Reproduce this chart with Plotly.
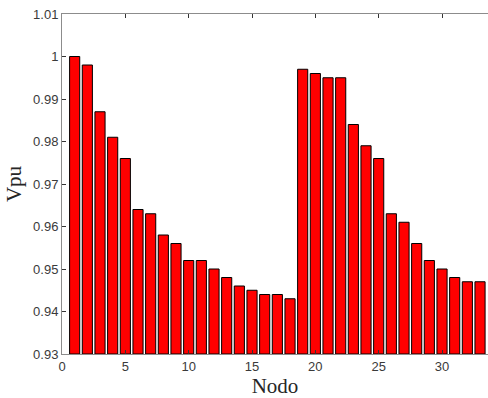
import plotly.graph_objects as go

nodes = list(range(1, 34))
vpu = [1.000, 0.998, 0.987, 0.981, 0.976, 0.964, 0.963, 0.958, 0.956, 0.952,
       0.952, 0.950, 0.948, 0.946, 0.945, 0.944, 0.944, 0.943, 0.997, 0.996,
       0.995, 0.995, 0.984, 0.979, 0.976, 0.963, 0.961, 0.956, 0.952, 0.950,
       0.948, 0.947, 0.947]
y_ticks = [0.93, 0.94, 0.95, 0.96, 0.97, 0.98, 0.99, 1.00, 1.01]
y_labels = ["0.93", "0.94", "0.95", "0.96", "0.97", "0.98", "0.99", "1", "1.01"]
x_ticks = [0, 5, 10, 15, 20, 25, 30]

fig = go.Figure(go.Bar(
    x=nodes, y=[v - 0.93 for v in vpu], base=0.93, width=0.8,
    marker=dict(color="#ff0000", line=dict(color="#000000", width=1)),
))

fig.update_layout(
    width=488, height=398,
    margin=dict(l=62, r=0, t=14, b=44),
    plot_bgcolor="white", paper_bgcolor="white",
    showlegend=False,
    font=dict(family="Liberation Sans, Arial", size=13, color="#3a3a3a"),
    xaxis=dict(
        range=[0, 33.63], tickvals=x_ticks, ticks="inside", ticklen=4,
        tickcolor="#333333", showline=True, linecolor="#8c8c8c", linewidth=1,
        mirror="ticks", showgrid=False, zeroline=False,
        title=dict(text="Nodo", font=dict(family="Liberation Serif, Times New Roman", size=21, color="#262626"), standoff=5),
    ),
    yaxis=dict(
        range=[0.93, 1.01], tickvals=y_ticks, ticktext=y_labels, ticks="inside",
        ticklen=4, tickcolor="#333333", showline=True, linecolor="#8c8c8c",
        linewidth=1, mirror=False, showgrid=False, zeroline=False,
        title=dict(text="Vpu", font=dict(family="Liberation Serif, Times New Roman", size=21, color="#262626"), standoff=5),
    ),
)

fig.write_html("out.html")
